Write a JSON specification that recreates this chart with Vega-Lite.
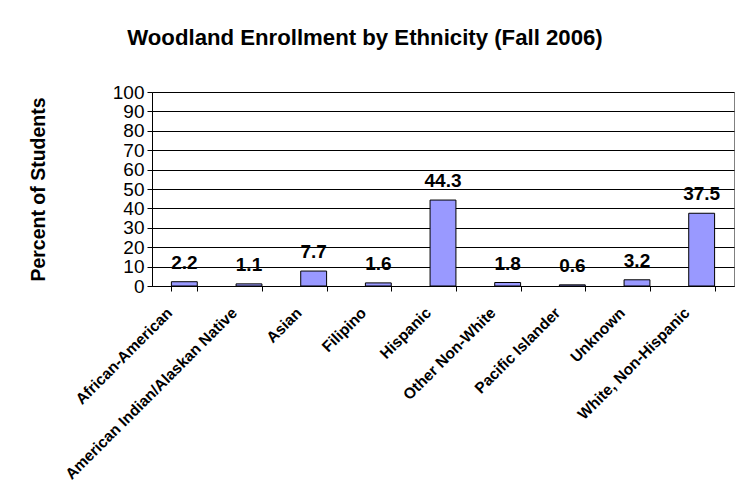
{
  "$schema": "https://vega.github.io/schema/vega-lite/v6.json",
  "width": 582,
  "height": 194,
  "autosize": {"type": "none"},
  "padding": {"left": 152, "top": 92, "right": 9, "bottom": 214},
  "background": "white",
  "title": {
    "text": "Woodland Enrollment by Ethnicity (Fall 2006)",
    "font": "Liberation Sans",
    "fontSize": 22.2,
    "fontWeight": "bold",
    "color": "black",
    "anchor": "middle",
    "dx": -78,
    "offset": 34
  },
  "data": {
    "values": [
      {"group": "African-American", "pct": 2.2},
      {"group": "American Indian/Alaskan Native", "pct": 1.1},
      {"group": "Asian", "pct": 7.7},
      {"group": "Filipino", "pct": 1.6},
      {"group": "Hispanic", "pct": 44.3},
      {"group": "Other Non-White", "pct": 1.8},
      {"group": "Pacific Islander", "pct": 0.6},
      {"group": "Unknown", "pct": 3.2},
      {"group": "White, Non-Hispanic", "pct": 37.5}
    ]
  },
  "encoding": {
    "x": {
      "field": "group",
      "type": "nominal",
      "sort": null,
      "scale": {"paddingInner": 0.6, "paddingOuter": 0.3},
      "axis": {
        "title": null,
        "labelAngle": -45,
        "labelFont": "Liberation Sans",
        "labelFontSize": 15.5,
        "labelFontWeight": "bold",
        "labelColor": "black",
        "labelPadding": 14,
        "labelOffset": -20,
        "labelLimit": 300,
        "tickBand": "extent",
        "tickColor": "black",
        "tickSize": 5,
        "domainColor": "black"
      }
    },
    "y": {
      "field": "pct",
      "type": "quantitative",
      "scale": {"domain": [0, 100]},
      "axis": {
        "title": "Percent of Students",
        "titleFont": "Liberation Sans",
        "titleFontSize": 19.5,
        "titleFontWeight": "bold",
        "titleColor": "black",
        "titlePadding": 64,
        "values": [0, 10, 20, 30, 40, 50, 60, 70, 80, 90, 100],
        "labelFont": "Liberation Sans",
        "labelFontSize": 19,
        "labelColor": "black",
        "labelPadding": 3,
        "tickColor": "black",
        "tickSize": 5,
        "domainColor": "black",
        "gridColor": "black",
        "gridOpacity": 1
      }
    }
  },
  "layer": [
    {
      "mark": {"type": "bar", "color": "#9999ff", "stroke": "black", "strokeWidth": 1}
    },
    {
      "mark": {
        "type": "text",
        "baseline": "alphabetic",
        "dy": -13,
        "font": "Liberation Sans",
        "fontSize": 19,
        "fontWeight": "bold",
        "color": "black"
      },
      "encoding": {
        "text": {"field": "pct", "type": "quantitative", "format": ".1f"}
      }
    }
  ],
  "config": {
    "view": {"stroke": "#808080"}
  }
}
